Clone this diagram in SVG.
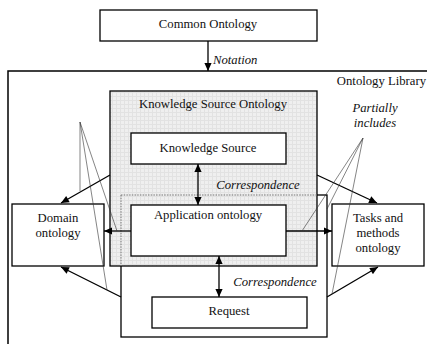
<svg xmlns="http://www.w3.org/2000/svg" width="427" height="344" viewBox="0 0 427 344">
<style>
.box{fill:#fff;stroke:#000;stroke-width:1.3}
.t{font-family:'Liberation Serif','Times New Roman',serif;font-size:12.7px;fill:#111;text-anchor:middle}
.i{font-style:italic}
.arr{stroke:#000;stroke-width:1.3;fill:none}
.thin{stroke:#333;stroke-width:0.6;fill:none}
</style>
<defs>
<pattern id="grid" width="4" height="4" patternUnits="userSpaceOnUse">
<rect width="4" height="4" fill="#efefef"/>
<path d="M0,0.5H4M0.5,0V4" stroke="#e2e2e2" stroke-width="1"/>
</pattern>
<marker id="ah" viewBox="0 0 10 10" refX="10" refY="5" markerWidth="9" markerHeight="8" orient="auto-start-reverse" markerUnits="userSpaceOnUse">
<path d="M0,0.5 L10,5 L0,9.5 z" fill="#000"/>
</marker>
</defs>
<rect width="427" height="344" fill="#fff"/>

<g id="common-ontology">
<rect class="box" x="100" y="10" width="217" height="31"/>
<text class="t" x="208" y="28">Common Ontology</text>
</g>

<g id="ontology-library">
<rect x="8" y="71" width="430" height="290" fill="#fff" stroke="#000" stroke-width="1.5"/>
<text class="t" x="426" y="85" style="text-anchor:end">Ontology Library</text>
</g>

<g id="application-container">
<rect x="121" y="195" width="206" height="142" fill="none" stroke="#000" stroke-width="1.3"/>
</g>

<g id="knowledge-source-ontology">
<rect x="110" y="91" width="207" height="175" fill="url(#grid)" stroke="#000" stroke-width="1.3"/>
<path d="M121,195 H317 M121,195 V266" stroke="#777" stroke-width="1" stroke-dasharray="1.5 1.2" fill="none"/>
<text class="t" x="213" y="108">Knowledge Source Ontology</text>
</g>

<g id="knowledge-source">
<rect class="box" x="131" y="133" width="155" height="31"/>
<text class="t" x="208" y="152">Knowledge Source</text>
</g>

<g id="application-ontology">
<rect class="box" x="131" y="205" width="155" height="51"/>
<text class="t" x="208" y="219">Application ontology</text>
</g>

<g id="request">
<rect class="box" x="152" y="297" width="155" height="31"/>
<text class="t" x="229" y="315">Request</text>
</g>

<g id="domain-ontology">
<rect class="box" x="12" y="204" width="92" height="62"/>
<text class="t" x="58" y="222">Domain</text>
<text class="t" x="58" y="237">ontology</text>
</g>

<g id="tasks-methods-ontology">
<rect class="box" x="332" y="204" width="92" height="62"/>
<text class="t" x="378" y="222">Tasks and</text>
<text class="t" x="378" y="237">methods</text>
<text class="t" x="378" y="252">ontology</text>
</g>

<g id="connectors">
<line class="arr" x1="208" y1="41" x2="208" y2="71" marker-end="url(#ah)"/>
<line class="arr" x1="198" y1="164" x2="198" y2="205" marker-start="url(#ah)" marker-end="url(#ah)"/>
<line class="arr" x1="219" y1="256" x2="219" y2="297" marker-start="url(#ah)" marker-end="url(#ah)"/>
<line class="arr" x1="110" y1="175" x2="61" y2="203" marker-end="url(#ah)"/>
<line class="arr" x1="131" y1="231" x2="104" y2="231" marker-end="url(#ah)"/>
<line class="arr" x1="121" y1="297" x2="61" y2="267" marker-end="url(#ah)"/>
<line class="arr" x1="317" y1="175" x2="377" y2="203" marker-end="url(#ah)"/>
<line class="arr" x1="286" y1="231" x2="332" y2="231" marker-end="url(#ah)"/>
<line class="arr" x1="327" y1="297" x2="378" y2="267" marker-end="url(#ah)"/>
<path class="thin" d="M80,122 V191 M80,122 L117,231 M80,122 L107,290"/>
<path class="thin" d="M363,138 L302,231 M363,138 L327,209 M363,138 L332,294"/>
<text class="t i" x="213" y="64" style="text-anchor:start">Notation</text>
<text class="t i" x="258" y="189">Correspondence</text>
<text class="t i" x="275" y="286">Correspondence</text>
<text class="t i" x="375" y="112">Partially</text>
<text class="t i" x="375" y="127">includes</text>
</g>
</svg>
